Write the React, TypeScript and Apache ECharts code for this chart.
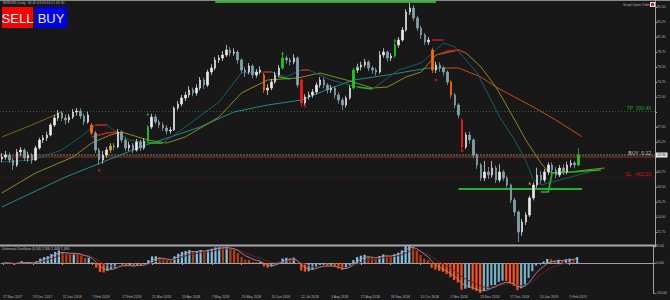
import React, { useEffect, useRef } from 'react';
import * as echarts from 'echarts';

// ---------- data ----------
const tickLabels = [
  '27 Nov 2017', '19 Dec 2017', '12 Jan 2018', '7 Feb 2018', '27 Feb 2018',
  '21 Mar 2018', '13 Apr 2018', '7 May 2018', '29 May 2018', '20 Jun 2018',
  '12 Jul 2018', '3 Aug 2018', '27 Aug 2018', '18 Sep 2018', '10 Oct 2018',
  '1 Nov 2018', '23 Nov 2018', '17 Dec 2018', '10 Jan 2019', '5 Feb 2019',
];
const BARS_PER_TICK = 8;
const TOTAL_SLOTS = 175;

const opens = [
  62.70, 63.00, 63.30, 62.55, 61.80, 63.75, 64.05, 62.85, 63.30, 62.55,
  64.35, 65.55, 65.85, 66.30, 67.80, 68.85, 69.60, 68.85, 68.55, 69.00,
  69.75, 69.90, 69.15, 68.25, 67.80, 66.60, 64.05, 62.55, 63.30, 64.05,
  64.65, 64.50, 66.75, 65.55, 64.35, 64.80, 64.05, 65.25, 64.35, 65.40,
  67.50, 69.00, 68.25, 67.80, 67.35, 66.90, 67.05, 70.35, 70.95, 71.85,
  72.30, 73.05, 72.60, 73.35, 74.55, 73.80, 75.75, 76.35, 77.55, 77.85,
  78.30, 79.05, 78.60, 78.75, 77.55, 76.05, 75.75, 76.65, 75.30, 75.75,
  75.30, 73.05, 73.35, 74.25, 75.30, 76.35, 77.85, 77.55, 77.25, 77.85,
  74.55, 71.10, 72.00, 72.30, 72.75, 73.80, 74.55, 73.80, 73.05, 73.35,
  72.30, 71.55, 70.80, 71.85, 73.35, 76.05, 76.50, 76.80, 77.25, 76.35,
  76.05, 75.75, 78.30, 78.75, 77.85, 78.15, 79.80, 80.55, 82.05, 84.75,
  85.35, 83.85, 82.35, 81.30, 80.25, 79.05, 76.05, 76.80, 76.35, 75.75,
  74.25, 72.30, 70.80, 68.55, 64.50, 66.30, 65.55, 63.30, 61.80, 59.85,
  60.75, 60.30, 61.35, 59.55, 60.75, 59.85, 58.80, 56.55, 54.75, 51.75,
  53.25, 54.30, 56.85, 58.80, 60.30, 59.55, 60.75, 61.80, 61.05, 60.30,
  61.35, 60.75, 61.80, 62.10, 61.80,
];
const closes = [
  63.00, 63.30, 62.55, 61.80, 63.75, 64.05, 62.85, 63.30, 62.55, 64.35,
  65.55, 65.85, 66.30, 67.80, 68.85, 69.60, 68.85, 68.55, 69.00, 69.75,
  69.90, 69.15, 68.25, 69.30, 66.60, 64.05, 62.55, 63.30, 64.05, 64.65,
  64.50, 66.75, 65.55, 64.35, 64.80, 64.05, 65.25, 64.35, 65.40, 67.50,
  69.00, 68.25, 67.80, 67.35, 66.90, 67.05, 70.35, 70.95, 71.85, 72.30,
  73.05, 72.60, 73.35, 74.55, 73.80, 75.75, 76.35, 77.55, 77.85, 78.30,
  79.05, 78.60, 78.75, 77.55, 76.05, 75.75, 76.65, 75.30, 75.75, 76.05,
  73.05, 73.35, 74.25, 75.30, 76.35, 77.85, 77.55, 77.25, 77.85, 73.80,
  71.10, 72.00, 72.30, 72.75, 73.80, 74.55, 73.80, 73.05, 73.35, 72.30,
  71.55, 70.80, 71.85, 73.35, 76.05, 76.50, 76.80, 77.25, 76.35, 76.05,
  75.75, 78.30, 78.75, 77.85, 78.15, 79.80, 80.55, 82.05, 84.75, 85.35,
  83.85, 82.35, 81.30, 80.25, 80.55, 76.05, 76.80, 76.35, 75.75, 74.25,
  72.30, 70.80, 69.30, 64.50, 66.30, 65.55, 63.30, 61.80, 59.85, 60.75,
  60.30, 61.35, 59.55, 60.75, 59.85, 58.80, 56.55, 54.75, 51.75, 53.25,
  54.30, 56.85, 58.80, 60.30, 59.55, 60.75, 61.80, 61.05, 60.30, 61.35,
  60.75, 61.80, 62.10, 61.80, 63.30,
];
const lows = [
  62.20, 62.60, 62.10, 61.05, 61.50, 63.20, 62.40, 62.30, 62.00, 62.40,
  64.10, 65.10, 65.40, 66.10, 67.50, 68.40, 68.40, 67.90, 68.10, 68.70,
  69.20, 68.70, 67.80, 68.00, 66.30, 63.60, 61.80, 62.00, 62.90, 63.60,
  64.00, 64.30, 65.10, 63.90, 63.90, 63.60, 63.80, 63.90, 64.10, 65.20,
  67.20, 67.90, 67.30, 66.90, 66.40, 66.50, 66.90, 70.00, 70.60, 71.40,
  71.90, 72.10, 72.20, 73.00, 73.20, 73.50, 75.30, 76.00, 77.10, 77.40,
  78.00, 78.10, 78.20, 77.00, 75.60, 75.00, 75.40, 74.80, 74.90, 75.40,
  72.60, 72.30, 73.00, 74.00, 75.00, 76.10, 77.00, 76.70, 76.90, 73.40,
  70.50, 70.80, 71.60, 71.90, 72.40, 73.40, 73.30, 72.50, 72.60, 71.80,
  71.00, 70.05, 70.40, 71.60, 73.10, 75.60, 76.00, 76.40, 75.90, 75.50,
  75.20, 75.50, 77.90, 77.30, 77.40, 77.90, 79.40, 80.30, 81.80, 84.30,
  83.40, 81.90, 80.70, 79.80, 79.80, 75.60, 75.60, 75.80, 75.20, 73.80,
  71.80, 70.30, 68.80, 63.90, 64.20, 65.00, 62.80, 61.20, 59.40, 59.40,
  59.70, 59.90, 59.10, 59.20, 59.40, 58.40, 56.10, 54.10, 50.25, 51.20,
  52.80, 54.00, 56.50, 58.40, 59.00, 59.20, 60.30, 60.50, 59.80, 60.00,
  60.30, 60.40, 61.40, 61.30, 61.60,
];
const highs = [
  63.60, 63.90, 63.70, 62.90, 64.20, 64.50, 64.30, 63.80, 63.60, 64.70,
  65.90, 66.30, 66.80, 68.10, 69.30, 70.05, 69.90, 69.40, 69.45, 70.20,
  70.35, 70.30, 69.50, 69.80, 68.10, 66.90, 64.40, 63.90, 64.50, 65.10,
  65.10, 67.20, 67.00, 65.90, 65.30, 65.10, 65.70, 65.60, 65.80, 67.80,
  69.50, 69.40, 68.60, 68.20, 67.80, 67.50, 70.60, 71.40, 72.30, 72.80,
  73.60, 73.40, 73.90, 75.00, 74.90, 76.10, 76.90, 78.00, 78.30, 78.90,
  79.80, 79.50, 79.30, 79.00, 77.80, 76.50, 77.10, 76.90, 76.20, 76.60,
  75.60, 73.90, 74.70, 75.80, 76.80, 78.60, 78.20, 77.90, 78.40, 78.10,
  74.80, 72.40, 72.80, 73.20, 74.20, 75.00, 74.90, 74.10, 73.80, 73.60,
  72.70, 71.90, 72.20, 73.80, 76.40, 77.00, 77.30, 77.70, 77.50, 76.70,
  76.40, 78.90, 79.30, 79.00, 78.60, 80.30, 81.00, 82.50, 85.20, 86.10,
  85.80, 84.20, 82.70, 81.60, 81.00, 79.40, 77.30, 77.20, 76.70, 76.00,
  74.50, 72.60, 71.10, 68.80, 66.70, 66.80, 65.80, 63.60, 62.10, 62.40,
  61.50, 62.40, 61.70, 61.90, 61.10, 60.20, 59.00, 56.90, 55.00, 53.70,
  54.70, 57.20, 59.20, 61.40, 60.90, 61.20, 62.20, 62.20, 61.50, 61.80,
  61.90, 62.30, 62.60, 62.40, 64.30,
];

// signal-painted bars
const orangeBars = [24, 70, 115, 120];
const redBars = [80, 123];
const greenBars = [39, 75, 94, 105, 154];
const yellowBars = [29];

// moving averages: [bar index, price]
const slowMA: [number, number][] = [
  [0, 55.5], [17, 60.0], [37, 64.5], [53, 67.5], [62, 69.75], [71, 70.8], [80, 71.55],
  [88, 73.35], [94, 74.55], [103, 75.3], [114, 76.35], [118, 76.35], [122, 76.35],
  [128, 75.0], [132, 73.5], [137, 72.0], [142, 70.5], [148, 68.55], [155, 66.05],
];
const SLOW_TURN = 118;
const midMA: [number, number][] = [
  [0, 57.6], [9, 60.6], [19, 63.0], [24, 65.1], [29, 66.3], [32, 66.75], [39, 65.55],
  [44, 65.1], [49, 66.0], [58, 69.0], [64, 72.6], [71, 74.55], [79, 74.85], [85, 75.6],
  [92, 74.55], [99, 73.35], [103, 73.5], [108, 75.0], [112, 75.75], [116, 78.3],
  [122, 79.05], [124, 78.6], [128, 76.5], [132, 73.5], [136, 69.6], [140, 65.55],
  [144, 62.1], [146, 60.75], [149, 60.6], [152, 60.75], [156, 61.05], [161, 61.35],
];
const fastMA: [number, number][] = [
  [0, 62.25], [8, 62.55], [16, 64.05], [21, 66.0], [25, 67.8], [28, 67.8], [31, 66.6],
  [34, 65.55], [39, 65.1], [43, 65.1], [49, 67.5], [58, 71.25], [64, 75.6], [70, 75.75],
  [72, 75.75], [76, 75.0], [80, 76.05], [82, 76.05], [88, 74.55], [95, 73.5], [99, 73.2],
  [106, 76.05], [112, 77.1], [118, 80.1], [121, 79.5], [127, 75.6], [133, 69.0],
  [137, 65.55], [140, 62.4], [142, 59.55], [144, 58.8], [149, 59.55], [157, 60.75],
];
const upperBand: [number, number][] = [[0, 66.0], [8, 67.8], [16, 69.75]];

const greenTrend: [number, number][][] = [
  [[39, 65.1], [43, 65.1]],
  [[74, 75.0], [77, 74.7]],
  [[95, 73.5], [99, 73.2]],
  [[144, 57.75], [146, 57.75], [147, 60.6], [152, 60.75], [160, 61.05]],
];
const redTrend: [number, number][][] = [
  [[25, 67.8], [28, 67.8]],
  [[24, 66.0], [28, 66.6], [31, 66.75]],
  [[70, 75.75], [72, 75.75]],
  [[80, 76.05], [82, 76.05]],
  [[115, 80.55], [118, 80.55]],
  [[116, 78.3], [119, 78.9], [122, 79.05], [124, 78.6]],
];
const redMarks: [number, number][] = [[26, 61.0], [81, 70.65], [123, 63.9], [116, 74.55]];
const greenMarks: [number, number][] = [[39, 69.45], [75, 78.6], [95, 76.5], [105, 80.55]];
const yellowMarks: [number, number][] = [[141, 59.1]];

// trade levels
const TP_PRICE = 69.9;
const TP_MONEY = '300.40';
const BID_PRICE = 63.3;
const ORDER_PRICE = 63.0;
const ORDER_LOTS = '0.12';
const SL_PRICE = 60.0;
const SL_MONEY = '-403.20';
const resistance = { from: 57, to: 116, price: 86.25 };
const support = { from: 122, to: 155, price: 58.27 };

// axes
const PRICE_MIN = 49.5;
const PRICE_MAX = 86.4;
const PRICE_STEP = 2.25;
const OSC_MIN = -150;
const OSC_MAX = 85;
const OSC_LABELS = [-150, 0, 85];
const OSC_FAST = 3;
const OSC_SLOW = 17;
const OSC_SCALE = 19;

const SYMBOL_TEXT = 'BRNUSD,Daily  63.45 63.53 63.21 63.30';
const OSC_TITLE = 'Universal Oscillator (5,34) 2.300 1.448 1.490';

function ema(arr: number[], n: number): number[] {
  const k = 2 / (n + 1);
  const out: number[] = [];
  let prev = arr[0];
  arr.forEach((v, i) => {
    prev = i === 0 ? v : v * k + prev * (1 - k);
    out.push(prev);
  });
  return out;
}

export default function App() {
  const ref = useRef<HTMLDivElement>(null);
  useEffect(() => {
    const chart = echarts.init(ref.current!, null, { renderer: 'svg' });
    const FONT = 'Liberation Sans, Arial, sans-serif';
    const categories = Array.from({ length: TOTAL_SLOTS }, (_, i) => String(i));
    const boxedPrices = [TP_PRICE, BID_PRICE];

    const candleData = opens.map((o, i) => {
      const value = [o, closes[i], lows[i], highs[i]];
      let c: string | null = null;
      if (orangeBars.includes(i)) c = '#ff6a00';
      if (redBars.includes(i)) c = '#ff1414';
      if (greenBars.includes(i)) c = '#1ec81e';
      if (yellowBars.includes(i)) c = '#c8b400';
      if (!c) return value;
      return { value, itemStyle: { color: c, color0: c, borderColor: c, borderColor0: c } };
    });

    const fast = ema(closes, OSC_FAST);
    const slow = ema(closes, OSC_SLOW);
    const osc = fast.map((v, i) => (v - slow[i]) * OSC_SCALE);
    const sig1 = ema(osc, 4);
    const sig2 = ema(osc, 9);
    const oscData = osc.map((v, i) => {
      const prev = i > 0 ? osc[i - 1] : v;
      const rising = v >= prev;
      let color;
      if (rising) color = v >= 0 ? '#7ec6e6' : '#74afc8';
      else color = v >= 0 ? '#b63e10' : '#ff5212';
      return { value: v, itemStyle: { color } };
    });

    const lineS = (data: [number, number][], color: string, width = 1, z = 3) => ({
      type: 'line', xAxisIndex: 0, yAxisIndex: 0, data, symbol: 'none', silent: true,
      lineStyle: { color, width }, z,
    });

    const smallLabel = { fontSize: 3.4, color: '#b4b4b4', fontFamily: FONT };

    const option: any = {
      animation: false,
      backgroundColor: '#181818',
      textStyle: { fontFamily: FONT },
      grid: [
        { left: 0, right: 15, top: 1, height: 246 },
        { left: 0, right: 15, top: 246, height: 47 },
      ],
      xAxis: [
        {
          type: 'category', gridIndex: 0, data: categories, boundaryGap: true,
          axisLine: { show: false }, axisTick: { show: false }, axisLabel: { show: false },
          splitLine: { show: false },
        },
        {
          type: 'category', gridIndex: 1, data: categories, boundaryGap: true,
          axisLine: { show: true, lineStyle: { color: '#a0a0a0', width: 1 } },
          axisTick: {
            show: true, length: 2, alignWithLabel: true, lineStyle: { color: '#a0a0a0' },
            interval: (idx: number) => idx % BARS_PER_TICK === 0 && idx / BARS_PER_TICK < tickLabels.length,
          },
          axisLabel: {
            ...smallLabel, align: 'left', margin: 2,
            interval: (idx: number) => idx % BARS_PER_TICK === 0 && idx / BARS_PER_TICK < tickLabels.length,
            formatter: (_v: string, idx: number) => tickLabels[idx / BARS_PER_TICK] ?? '',
          },
          splitLine: { show: false },
        },
      ],
      yAxis: [
        {
          type: 'value', gridIndex: 0, position: 'right', min: PRICE_MIN, max: PRICE_MAX,
          interval: PRICE_STEP, scale: true,
          axisLine: { show: true, lineStyle: { color: '#a0a0a0' } },
          axisTick: { show: true, length: 2, lineStyle: { color: '#a0a0a0' } },
          axisLabel: {
            ...smallLabel, margin: 2, showMinLabel: false, showMaxLabel: false,
            formatter: (v: number) => (boxedPrices.some(p => Math.abs(p - v) < 0.8) ? '' : v.toFixed(2)),
          },
          splitLine: { show: false },
        },
        {
          type: 'value', gridIndex: 1, position: 'right', min: OSC_MIN, max: OSC_MAX,
          axisLine: { show: true, lineStyle: { color: '#a0a0a0' } },
          axisTick: { show: true, length: 2, customValues: OSC_LABELS, lineStyle: { color: '#a0a0a0' } },
          axisLabel: {
            ...smallLabel, margin: 2, customValues: OSC_LABELS,
            formatter: (v: number) => (v === 0 ? '0.000' : v.toFixed(2)),
          },
          splitLine: { show: false },
        },
      ],
      series: [
        lineS(upperBand, '#6e6c14'),
        lineS(slowMA.filter(p => p[0] <= SLOW_TURN), '#1f8c8e'),
        lineS(slowMA.filter(p => p[0] >= SLOW_TURN), '#d2481a'),
        lineS(midMA, '#8e8a1c'),
        lineS(fastMA, '#175e66'),
        ...greenTrend.map(seg => lineS(seg, '#20b420', 1.6, 4)),
        ...redTrend.map(seg => lineS(seg, '#c81e1e', 1.3, 4)),
        {
          type: 'candlestick', xAxisIndex: 0, yAxisIndex: 0, data: candleData, barWidth: 2, z: 5,
          silent: true,
          itemStyle: {
            color: '#ececec', color0: '#7fa2ad', borderColor: '#d8d8d8', borderColor0: '#7fa2ad',
            borderWidth: 0.8,
          },
          markLine: {
            symbol: ['none', 'none'], silent: true, animation: false, z: 2,
            label: { fontFamily: FONT },
            data: [
              {
                yAxis: TP_PRICE, lineStyle: { color: '#1c6e1c', type: [1, 2], width: 1 },
                label: { show: true, position: 'insideEndTop', formatter: 'TP  ' + TP_MONEY, color: '#1fa01f', fontSize: 5, distance: [4, 1] },
              },
              {
                yAxis: TP_PRICE, lineStyle: { opacity: 0 },
                label: { show: true, position: 'end', formatter: TP_PRICE.toFixed(2), backgroundColor: '#1aa01a', color: '#0c0c0c', fontSize: 3.4, padding: [1, 1.5], distance: 1 },
              },
              {
                yAxis: ORDER_PRICE, lineStyle: { color: '#6e2c12', type: 'solid', width: 1.5 },
                label: { show: true, position: 'insideEndTop', formatter: 'BUY  ' + ORDER_LOTS, color: '#c8c8c8', fontSize: 5, distance: [4, 2] },
              },
              {
                yAxis: BID_PRICE, lineStyle: { color: '#4a4a4a', type: [2, 1], width: 2 },
                label: { show: true, position: 'end', formatter: BID_PRICE.toFixed(2), backgroundColor: '#ececec', color: '#0c0c0c', fontSize: 3.4, padding: [1, 1.5], distance: 1 },
              },
              {
                yAxis: SL_PRICE, lineStyle: { color: '#6a1414', type: [1, 2], width: 1 },
                label: { show: true, position: 'insideEndTop', formatter: 'SL  ' + SL_MONEY, color: '#d41414', fontSize: 5, distance: [4, 1] },
              },
              {
                yAxis: SL_PRICE, lineStyle: { opacity: 0 },
                label: { show: true, position: 'end', formatter: SL_PRICE.toFixed(2), backgroundColor: '#d41414', color: '#f0f0f0', fontSize: 3.4, padding: [1, 1.5], distance: 1 },
              },
              [
                { coord: [resistance.from, resistance.price], lineStyle: { color: '#22b422', width: 2, type: 'solid' }, label: { show: false } },
                { coord: [resistance.to, resistance.price] },
              ],
              [
                { coord: [support.from, support.price], lineStyle: { color: '#22b422', width: 2, type: 'solid' }, label: { show: false } },
                { coord: [support.to, support.price] },
              ],
            ],
          },
        },
        {
          type: 'scatter', xAxisIndex: 0, yAxisIndex: 0, data: redMarks, symbol: 'circle', symbolSize: 3,
          itemStyle: { color: '#c81414' }, silent: true, z: 6,
        },
        {
          type: 'scatter', xAxisIndex: 0, yAxisIndex: 0, data: greenMarks, symbol: 'triangle', symbolSize: 3,
          itemStyle: { color: '#1ec81e' }, silent: true, z: 6,
        },
        {
          type: 'scatter', xAxisIndex: 0, yAxisIndex: 0, data: yellowMarks, symbol: 'triangle', symbolSize: 3,
          itemStyle: { color: '#c8b400' }, silent: true, z: 6,
        },
        {
          type: 'bar', xAxisIndex: 1, yAxisIndex: 1, data: oscData, barWidth: 2.2, silent: true,
        },
        {
          type: 'line', xAxisIndex: 1, yAxisIndex: 1, data: sig2, symbol: 'none', silent: true,
          lineStyle: { color: '#6e1e2c', width: 1 }, z: 3,
        },
        {
          type: 'line', xAxisIndex: 1, yAxisIndex: 1, data: sig1, symbol: 'none', silent: true,
          lineStyle: { color: '#a88c94', width: 0.9 }, z: 4,
        },
      ],
      graphic: [
        { type: 'line', shape: { x1: 0, y1: 0.5, x2: 670, y2: 0.5 }, style: { stroke: '#8a8a8a', lineWidth: 1 }, silent: true },
        { type: 'line', shape: { x1: 0, y1: 245.5, x2: 655, y2: 245.5 }, style: { stroke: '#a8a8a8', lineWidth: 2 }, silent: true, z: 100 },
        { type: 'text', x: 3, y: 1.5, style: { text: SYMBOL_TEXT, fill: '#b4b4b4', fontSize: 3.4, fontFamily: FONT }, silent: true },
        { type: 'text', x: 623, y: 3.5, style: { text: 'Script Open Order', fill: '#b4b4b4', fontSize: 3.4, fontFamily: FONT }, silent: true },
        { type: 'rect', shape: { x: 650, y: 2, width: 5, height: 5 }, style: { fill: '#e8e8e8' }, silent: true },
        { type: 'rect', shape: { x: 651, y: 3, width: 3, height: 3 }, style: { fill: '#d42020' }, silent: true },
        { type: 'rect', shape: { x: 2, y: 7, width: 31, height: 21 }, style: { fill: '#ff0000' }, silent: true },
        {
          type: 'text', x: 17.5, y: 18, style: { text: 'SELL', fill: '#ffffff', fontSize: 13, fontFamily: FONT, align: 'center', verticalAlign: 'middle' }, silent: true,
        },
        { type: 'rect', shape: { x: 35, y: 7, width: 32, height: 21 }, style: { fill: '#0000e6' }, silent: true },
        {
          type: 'text', x: 51, y: 18, style: { text: 'BUY', fill: '#e8e8ff', fontSize: 13, fontFamily: FONT, align: 'center', verticalAlign: 'middle' }, silent: true,
        },
        { type: 'text', x: 2, y: 247, style: { text: OSC_TITLE, fill: '#c0c0c0', fontSize: 3.4, fontFamily: FONT }, silent: true, z: 100 },
      ],
    };
    chart.setOption(option);
    return () => chart.dispose();
  }, []);
  return (
    <div
      ref={ref}
      style={{ position: 'fixed', left: 0, top: 0, width: 670, height: 300, background: '#181818' }}
    />
  );
}
